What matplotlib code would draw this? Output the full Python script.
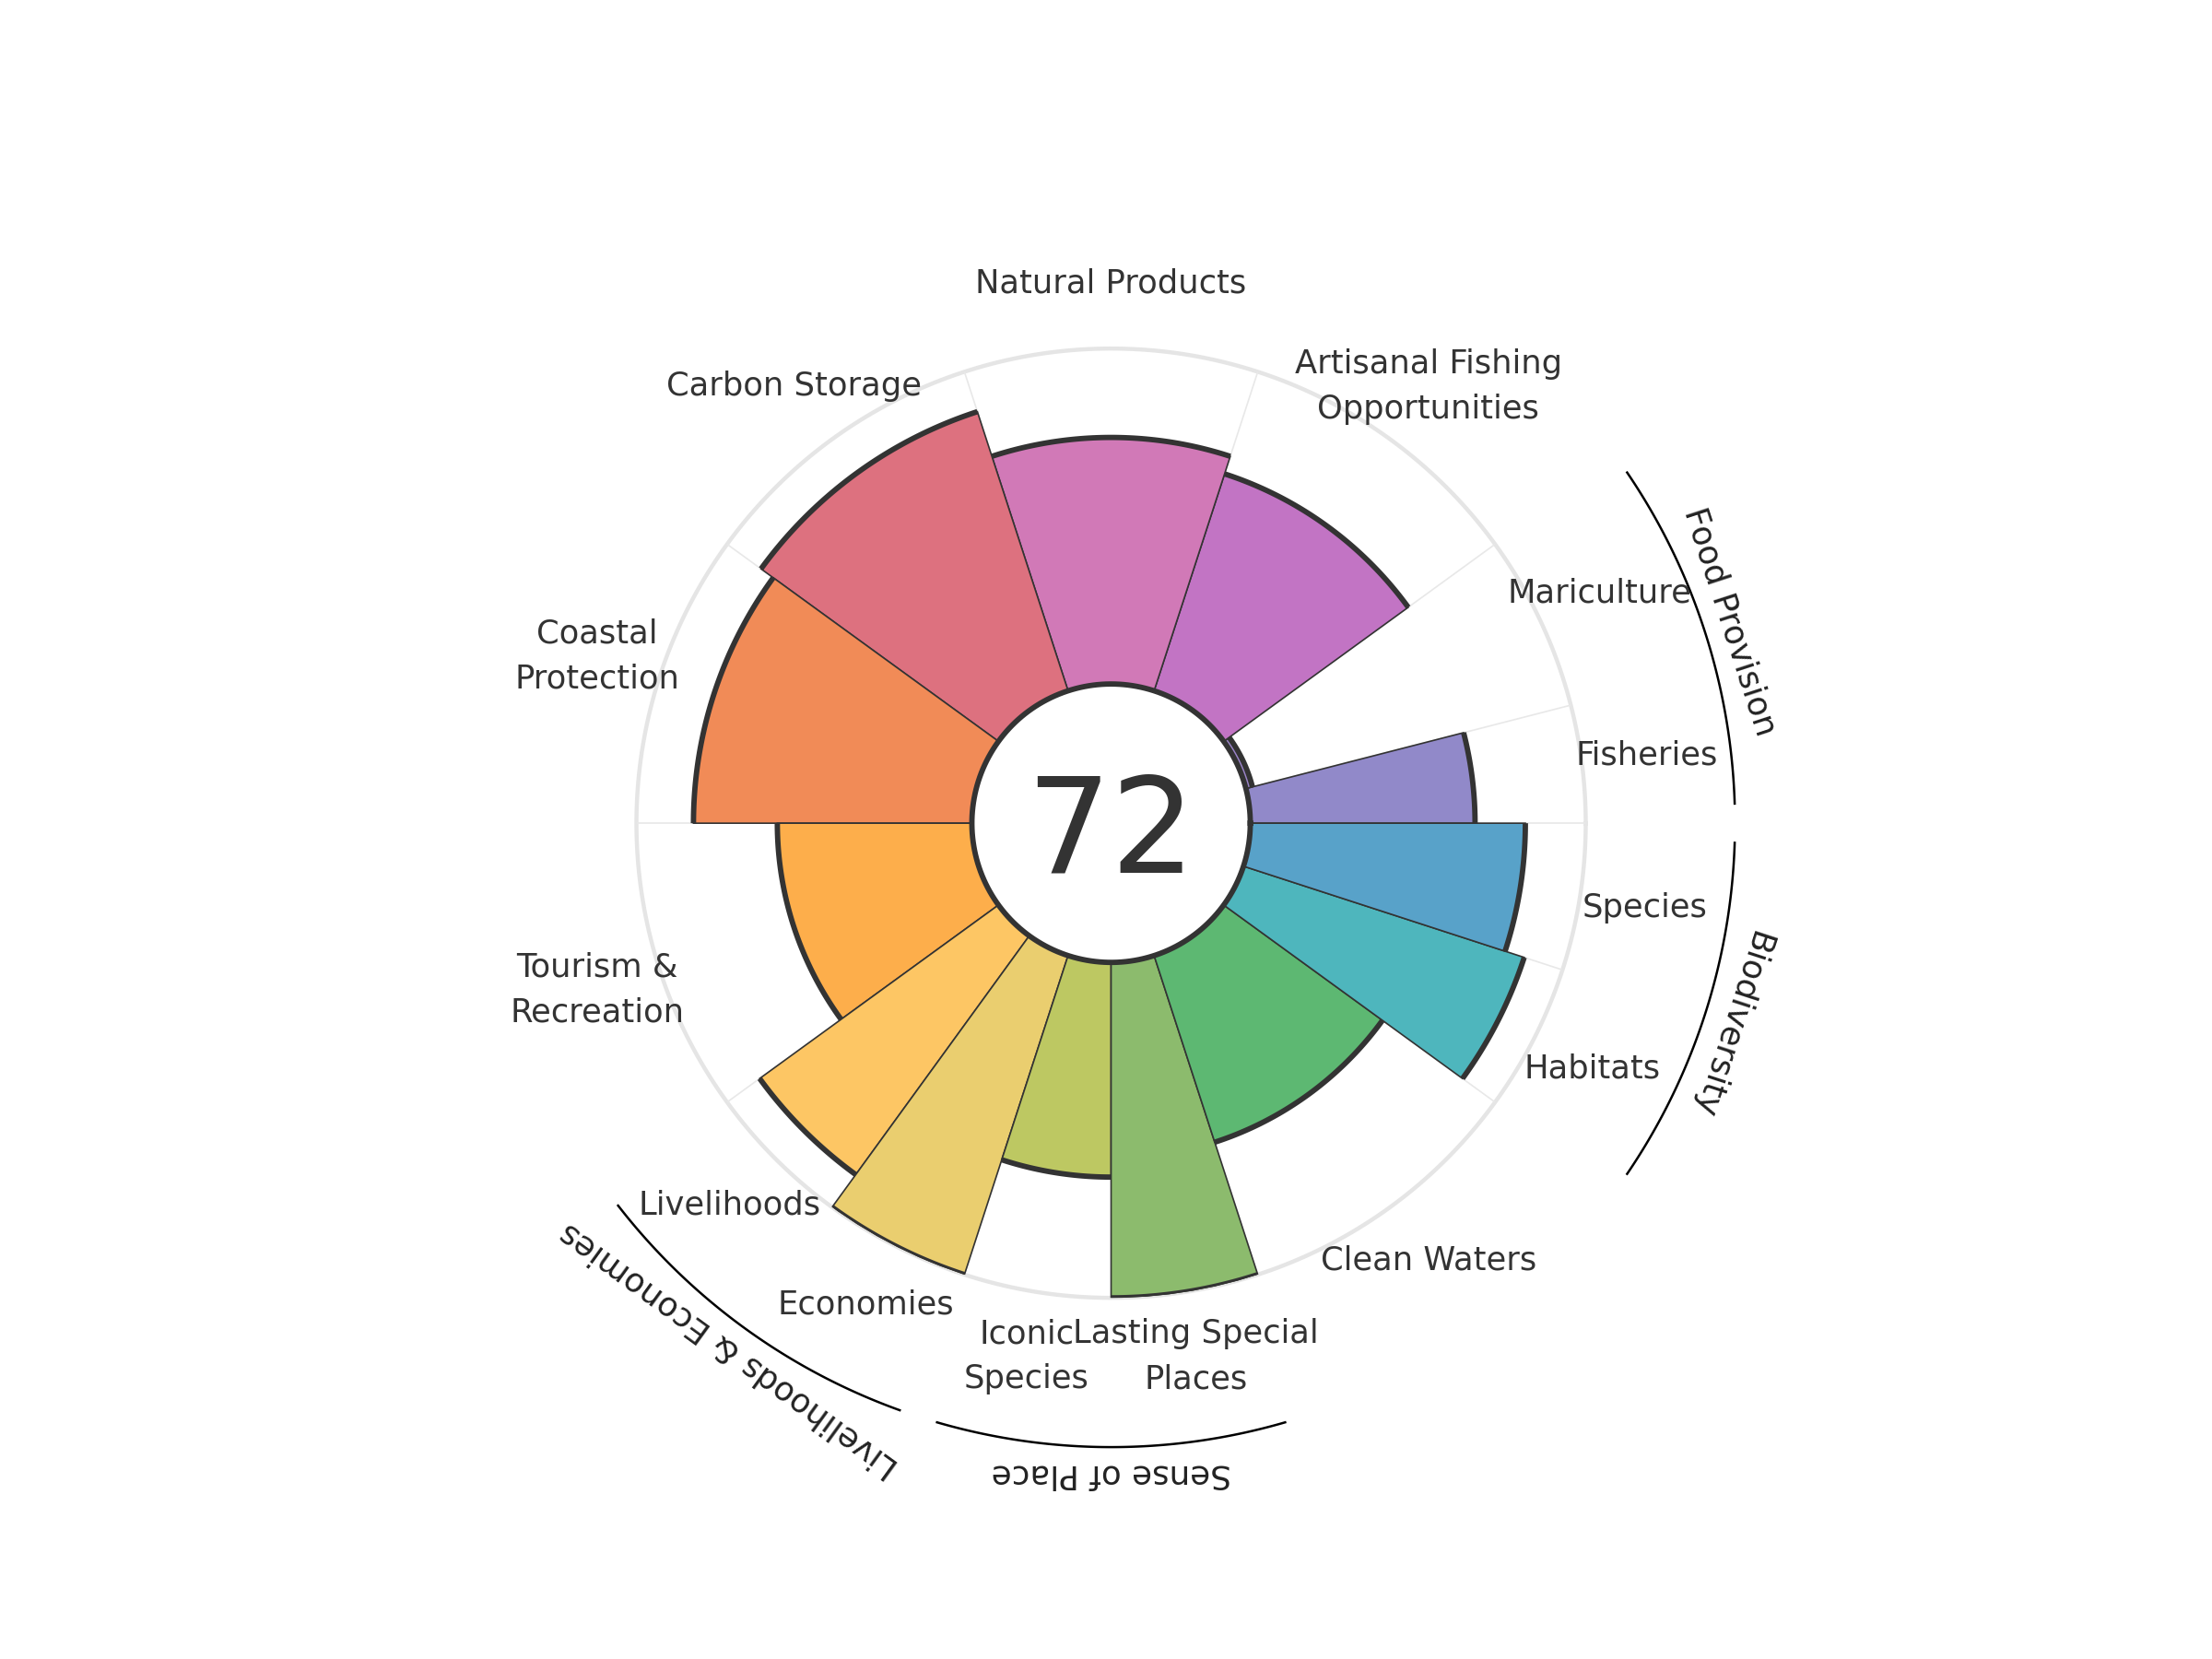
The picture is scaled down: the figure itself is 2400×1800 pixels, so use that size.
#!/usr/bin/env python3
"""Ocean health style flower plot."""

import numpy as np
import matplotlib

matplotlib.use("Agg")
import matplotlib.pyplot as plt

# goals in drawing order, counterclockwise starting at 3 o'clock
labels = ["Fisheries", "Mariculture", "Artisanal Fishing\nOpportunities",
          "Natural Products", "Carbon Storage", "Coastal\nProtection",
          "Tourism &\nRecreation", "Livelihoods", "Economies", "Iconic\nSpecies",
          "Lasting Special\nPlaces", "Clean Waters", "Habitats", "Species"]
scores = [67, 2, 68, 73.5, 87.5, 83, 58, 88, 100, 64, 100, 58.5, 88, 82]
weights = [0.4, 0.6, 1, 1, 1, 1, 1, 0.5, 0.5, 0.5, 0.5, 1, 0.5, 0.5]
colors = ["#9189C9", "#9C85CA", "#C274C4", "#D179B7", "#DD717F", "#F18B57",
          "#FDAE4B", "#FDC664", "#EACE6F", "#BDC862", "#8CBB6D", "#5DB872",
          "#4EB6BD", "#58A2C9"]
overall = 72

groups = ["Food Provision", "Livelihoods & Economies", "Sense of Place", "Biodiversity"]
group_members = [(0, 1), (7, 8), (9, 10), (12, 13)]

HOLE = 41.5          # radius of the centre disk, in score units
RMAX = HOLE + 100
R_LABEL = 161
R_ARC = 186
R_GROUP = 194
DARK = "#333333"

w = np.array(weights) / sum(weights) * 2 * np.pi
starts = np.concatenate([[0], np.cumsum(w)[:-1]])
mids = starts + w / 2

fig = plt.figure(figsize=(12, 9), dpi=200)
ax = fig.add_axes([0.2877, 0.2177, 0.4292, 0.5722], projection="polar")
ax.set_ylim(0, RMAX)
ax.axis("off")

# background grid: outer ring + radial separators
ring = np.linspace(0, 2 * np.pi, 400)
ax.plot(ring, np.full_like(ring, RMAX), color="#e5e5e5", lw=1.6, zorder=0,
        clip_on=False)
for s in starts:
    ax.plot([s, s], [HOLE, RMAX], color="#e8e8e8", lw=0.6, zorder=0)

ax.bar(mids, scores, width=w, bottom=HOLE, color=colors, edgecolor=DARK,
       linewidth=0.6, align="center", zorder=2)
for s, width, v in zip(starts, w, scores):
    th = np.linspace(s, s + width, 60)
    ax.plot(th, np.full_like(th, HOLE + v), color=DARK, lw=2.1, zorder=3,
            solid_capstyle="butt")

# centre disk outline
ax.plot(ring, np.full_like(ring, HOLE), color=DARK, lw=2.1, zorder=4)

for m, lab in zip(mids, labels):
    ax.text(m, R_LABEL, lab, ha="center", va="center", fontsize=12.7,
            color=DARK, linespacing=1.55, clip_on=False)

for name, (i0, i1) in zip(groups, group_members):
    a0 = starts[i0]
    a1 = starts[i1] + w[i1]
    pad = 0.05 * (a1 - a0)
    th = np.linspace(a0 + pad, a1 - pad, 100)
    ax.plot(th, np.full_like(th, R_ARC), color="black", lw=0.9, clip_on=False)
    mid = (a0 + a1) / 2
    ax.text(mid, R_GROUP, name, ha="center", va="center", fontsize=12.9,
            color="#222222", rotation=np.degrees(mid) - 90,
            rotation_mode="anchor", clip_on=False)

fig.text(1205.5 / 2400, (1800 - 946.7) / 1800, str(overall), ha="center",
         va="baseline", fontsize=52, color=DARK)

fig.savefig("out.png", dpi=200)
